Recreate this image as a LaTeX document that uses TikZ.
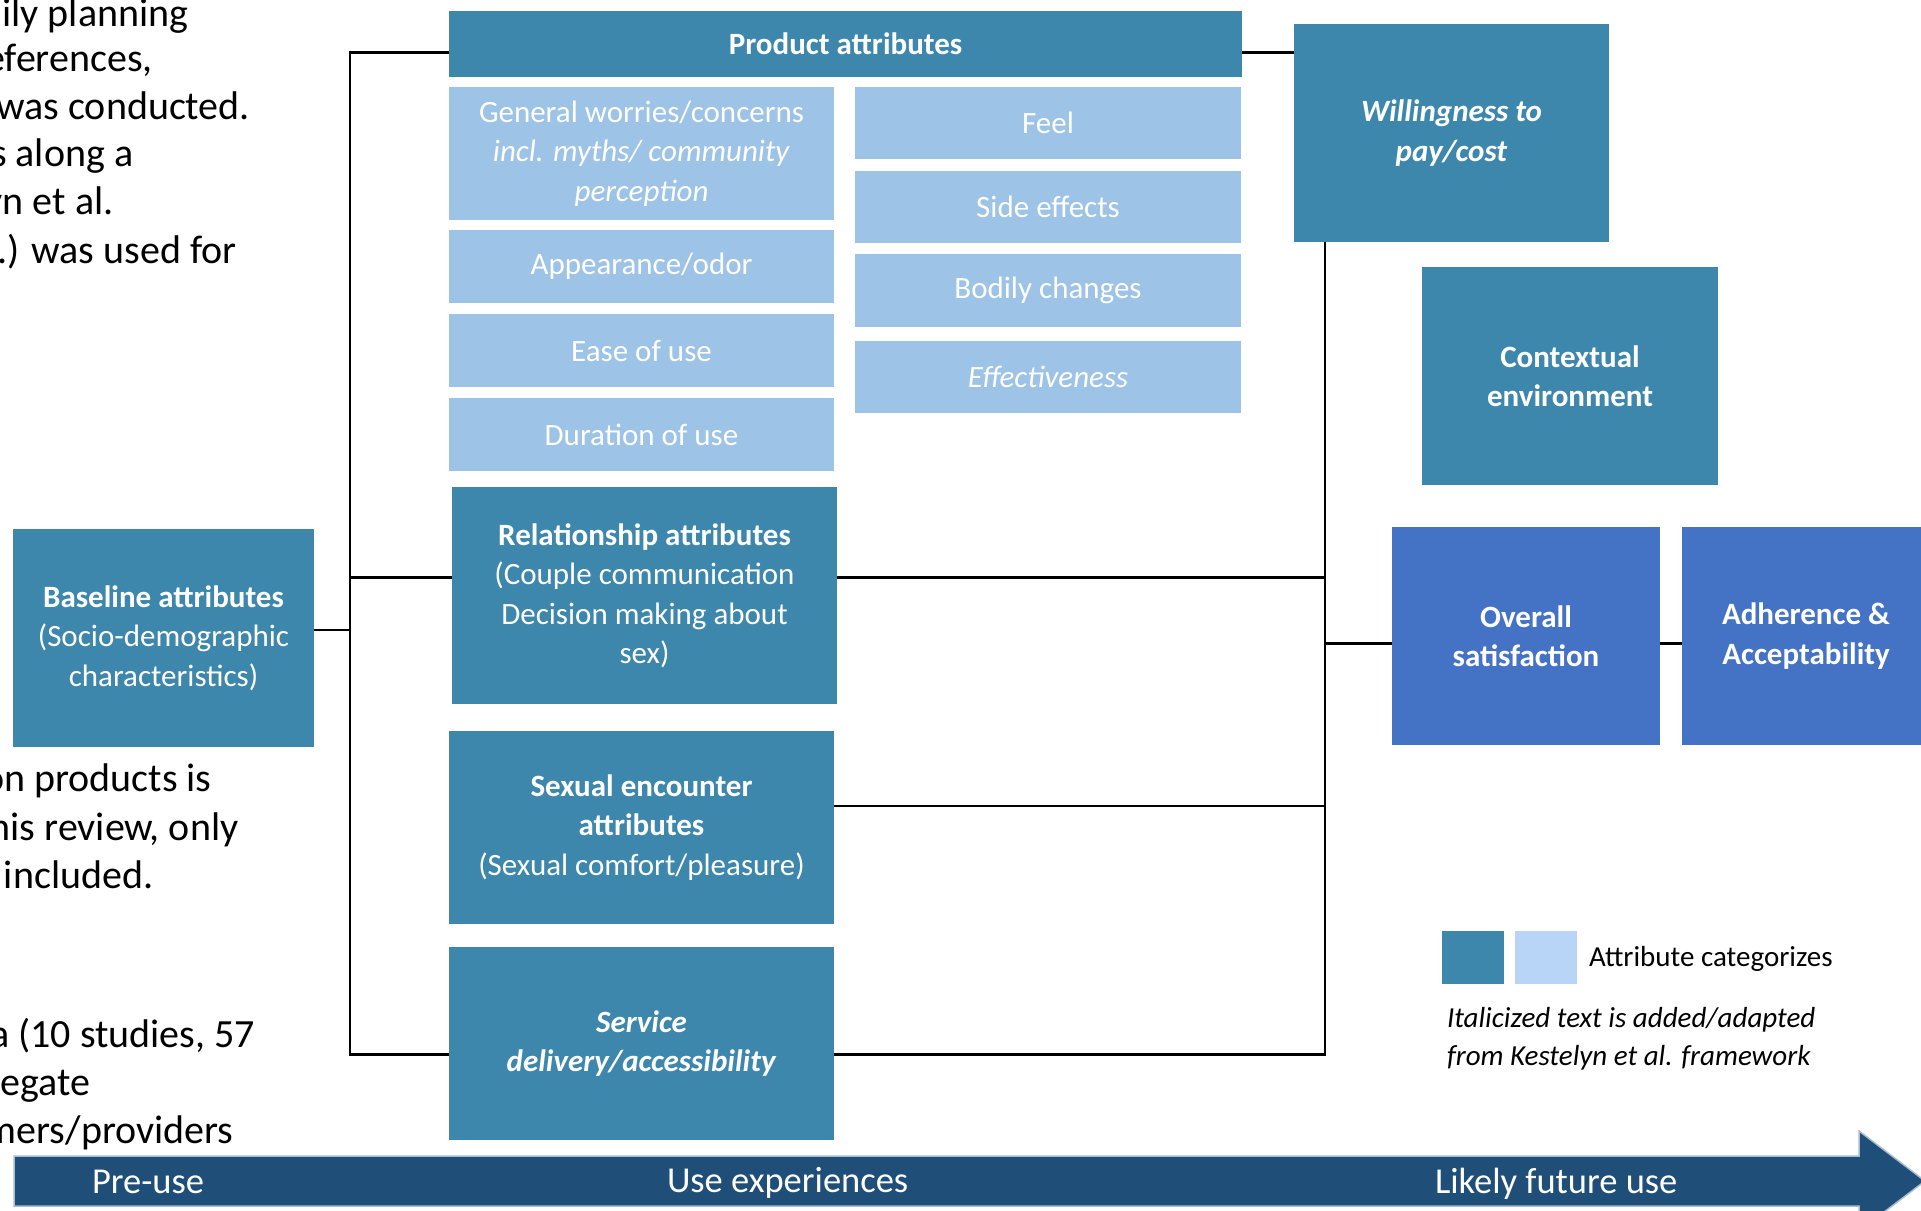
\documentclass[tikz,border=0pt]{standalone}
\usepackage{fontspec}
\setmainfont{Carlito}
\definecolor{darkbox}{HTML}{3D87AD}
\definecolor{lightbox}{HTML}{9DC3E6}
\definecolor{satblue}{HTML}{4472C4}
\definecolor{arrowblue}{HTML}{1F4E79}
\definecolor{bandedge}{HTML}{A9BCD0}
\definecolor{legendlight}{HTML}{B8D4F6}
\newcommand\mybxfont{\fontsize{31}{39.5}\selectfont}
\newcommand\mybgfont{\fontsize{40}{47.7}\selectfont}
\newcommand\mylgfont{\fontsize{29}{37}\selectfont}
\newcommand\myarfont{\fontsize{36.5}{40}\selectfont}
\begin{document}
\begin{tikzpicture}[x=1pt,y=-1pt,
  every node/.style={inner sep=0pt, outer sep=0pt},
  boxd/.style={fill=darkbox, text=white, align=center, font=\mybxfont},
  boxl/.style={fill=lightbox, text=white, align=center, font=\mybxfont},
  boxb/.style={fill=satblue, text=white, align=center, font=\mybxfont\bfseries},
  bgtext/.style={text=black, font=\mybgfont, anchor=base east},
  lgtext/.style={text=black, font=\mylgfont, anchor=base west},
  artext/.style={text=white, font=\myarfont, anchor=base west},
  conn/.style={draw=black, line width=2.6pt},
]
\useasboundingbox (0,0) rectangle (1921,1210);
\clip (0,0) rectangle (1921,1210);

% background slide text fragments
\node[bgtext] (t1) at (188.3,26.7) {ily planning};
\node[bgtext] (t2) at (152.7,71.7) {eferences,};
\node[bgtext] (t3) at (250,119.3) {was conducted.};
\node[bgtext] (t4) at (133.3,166.7) {s along a};
\node[bgtext] (t5) at (113.5,214.3) {yn et al.};
\node[bgtext] (t6) at (236.7,263.3) {.) was used for};
\node[bgtext] (t7) at (211.7,791.7) {on products is};
\node[bgtext] (t8) at (238.3,840) {his review, only};
\node[bgtext] (t9) at (153.3,888) {included.};
\node[bgtext] (t10) at (255,1047) {a (10 studies, 57};
\node[bgtext] (t11) at (90,1095) {regate};
\node[bgtext] (t12) at (233.3,1143) {mers/providers};

% product attributes
\node[boxd, minimum width=793pt, minimum height=66pt] (prod) at (845.5,44) {\textbf{Product attributes}};
\node[boxl, minimum width=385pt, minimum height=133pt] (gw) at (641.5,153.5) {General worries/concerns\\\textit{incl. myths/ community}\\\textit{perception}};
\node[boxl, minimum width=385pt, minimum height=73pt] (app) at (641.5,266.5) {Appearance/odor};
\node[boxl, minimum width=385pt, minimum height=73pt] (ease) at (641.5,350.5) {Ease of use};
\node[boxl, minimum width=385pt, minimum height=73pt] (dur) at (641.5,434.5) {Duration of use};
\node[boxl, minimum width=386pt, minimum height=72pt] (feel) at (1048,123) {Feel};
\node[boxl, minimum width=386pt, minimum height=72pt] (side) at (1048,207) {Side effects};
\node[boxl, minimum width=386pt, minimum height=73pt] (bodily) at (1048,290.5) {Bodily changes};
\node[boxl, minimum width=386pt, minimum height=72pt] (eff) at (1048,377) {\textit{Effectiveness}};

% other attribute boxes
\node[boxd, minimum width=385pt, minimum height=217pt] (rel) at (644.5,595.5) {\textbf{Relationship attributes}\\(Couple communication\\Decision making about\\sex)};
\node[boxd, minimum width=385pt, minimum height=193pt] (sex) at (641.5,827.5) {\textbf{Sexual encounter}\\\textbf{attributes}\\(Sexual comfort/pleasure)};
\node[boxd, minimum width=385pt, minimum height=193pt] (serv) at (641.5,1043.5) {\textbf{\textit{Service}}\\\textbf{\textit{delivery/accessibility}}};
\node[boxd, minimum width=301pt, minimum height=218pt] (base) at (163.5,638) {\textbf{Baseline attributes}\\(Socio-demographic\\characteristics)};
\node[boxd, minimum width=315pt, minimum height=218pt] (will) at (1451.5,133) {\textbf{\textit{Willingness to}}\\\textbf{\textit{pay/cost}}};
\node[boxd, minimum width=296pt, minimum height=218pt] (ctx) at (1570,376) {\textbf{Contextual}\\\textbf{environment}};
\node[boxb, minimum width=268pt, minimum height=218pt] (over) at (1526,636) {Overall\\satisfaction};
\node[boxb, minimum width=248pt, minimum height=218pt] (adh) at (1806,636) {Adherence \&\\Acceptability};

% legend
\node[fill=darkbox, minimum width=62pt, minimum height=53pt] (legd) at (1473,957.5) {};
\node[fill=legendlight, minimum width=62pt, minimum height=53pt] (legl) at (1546,957.5) {};
\node[lgtext] (legt) at (1589,966.7) {Attribute categorizes};
\node[lgtext] (legi1) at (1447,1027.7) {\itshape Italicized text is added/adapted};
\node[lgtext] (legi2) at (1447,1065) {\itshape from Kestelyn et al. framework};

% connectors, left bus
\coordinate (L1) at (350,52.3);
\coordinate (L2) at (350,1054.5);
\draw[conn] ([yshift=-8.3pt]prod.west) -- (L1) -- (L2) -- ([yshift=-11pt]serv.west);
\coordinate (rW) at ([yshift=18pt]rel.west);
\draw[conn] (rW) -- (rW -| L1);
\coordinate (bE) at ([yshift=8pt]base.east);
\draw[conn] (bE) -- (bE -| L1);

% connectors, right bus
\coordinate (pE) at ([yshift=-8.3pt]prod.east);
\draw[conn] (pE) -- (pE -| will.west);
\coordinate (R1) at ([xshift=31pt]will.south west);
\coordinate (R2) at (1325,1054.5);
\draw[conn] (R1) -- (R2) -- ([yshift=-11pt]serv.east);
\coordinate (rE) at ([yshift=18pt]rel.east);
\draw[conn] (rE) -- (rE -| R1);
\coordinate (sE) at ([yshift=21.5pt]sex.east);
\draw[conn] (sE) -- (sE -| R1);
\coordinate (oW) at ([yshift=-7.3pt]over.west);
\draw[conn] (oW -| R1) -- (oW);
\draw[conn] ([yshift=-7.3pt]over.east) -- ([yshift=-7.3pt]adh.west);

% timeline arrow
\filldraw[fill=arrowblue, draw=bandedge, line width=1.5pt]
  (14,1156) -- (1859,1156) -- (1859,1131) -- (1925,1181) -- (1859,1231) -- (1859,1206) -- (14,1206) -- cycle;
\node[artext] (a1) at (92,1193) {Pre-use};
\node[artext] (a2) at (667,1192.7) {Use experiences};
\node[artext] (a3) at (1435,1193) {Likely future use};
\end{tikzpicture}
\end{document}
